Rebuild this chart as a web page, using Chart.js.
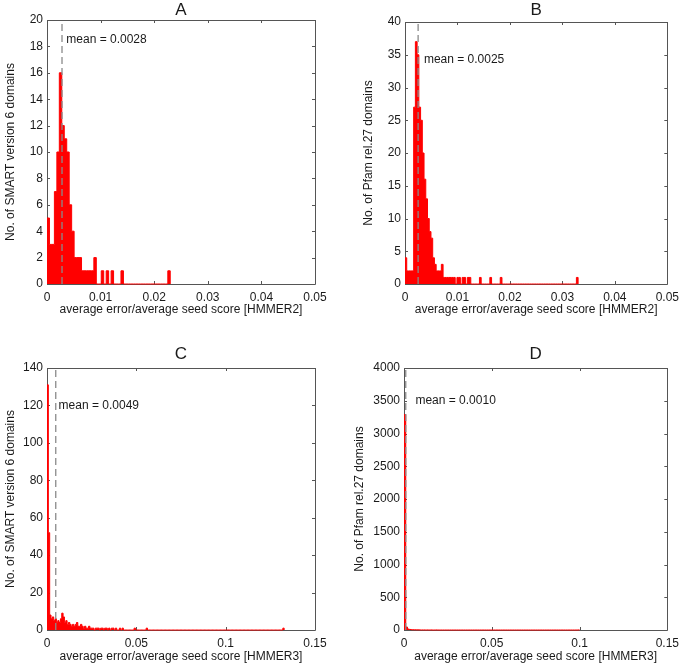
<!DOCTYPE html>
<html>
<head>
<meta charset="utf-8">
<script src="https://cdn.jsdelivr.net/npm/chart.js@4.4.1/dist/chart.umd.min.js"></script>
<style>
    body { margin: 0; background: #fff; }
    #wrap { position: relative; width: 685px; height: 667px; }
    #wrap canvas { position: absolute; }
</style>
</head>
<body>
<div id="wrap">
    <canvas id="chartA" width="342" height="333" style="left:0;top:0"></canvas>
    <canvas id="chartB" width="343" height="333" style="left:342px;top:0"></canvas>
    <canvas id="chartC" width="342" height="333" style="left:0;top:334px"></canvas>
    <canvas id="chartD" width="343" height="333" style="left:342px;top:334px"></canvas>
</div>
<script>
// ========================================
// Data (histogram counts per bin)
// ========================================

const binWidthA = 0.00046;
const countsA = [
    5, 3, 3, 7, 10, 16, 12, 11, 10, 6,
    4, 2, 2, 2, 1, 1, 1, 1, 1, 2,
    0, 0, 1, 0, 1, 0, 1, 0, 0, 0,
    1, 0, 0, 0, 0, 0, 0, 0, 0, 0,
    0, 0, 0, 0, 0, 0, 0, 0, 0, 1
];

const binWidthB = 0.00033;
const countsB = [
    4, 2, 2, 2, 2, 27, 37, 35, 27, 25,
    20, 16, 13, 10, 8, 7, 4, 3, 2, 2,
    2, 3, 1, 1, 1, 1, 1, 1, 1, 0,
    1, 1, 0, 1, 1, 0, 1, 1, 0, 0,
    0, 0, 0, 1, 0, 0, 0, 0, 0, 1,
    0, 0, 0, 0, 0, 1, 0, 0, 0, 0,
    0, 0, 0, 0, 0, 0, 0, 0, 0, 0,
    0, 0, 0, 0, 0, 0, 0, 0, 0, 0,
    0, 0, 0, 0, 0, 0, 0, 0, 0, 0,
    0, 0, 0, 0, 0, 0, 0, 0, 0, 1
];

const binWidthC = 0.00075;
const countsC = [
    131, 52, 8, 6, 7, 5, 6, 4, 5, 4, 6, 9, 7, 4, 5, 3, 4, 3, 2, 3,
    2, 3, 4, 2, 2, 3, 2, 1, 2, 1, 1, 2, 1, 1, 1, 0, 1, 1, 1, 0,
    1, 1, 0, 1, 1, 0, 1, 0, 1, 1, 0, 1, 0, 0, 1, 0, 1, 0, 0, 0,
    0, 0, 0, 0, 0, 1, 0, 0, 0, 0, 0, 0, 0, 0, 1, 0, 0, 0, 0, 0,
    0, 0, 0, 0, 0, 0, 0, 0, 0, 0, 0, 0, 0, 0, 0, 0, 0, 0, 0, 0,
    0, 0, 0, 0, 0, 0, 0, 0, 0, 0, 0, 0, 0, 0, 0, 0, 0, 0, 0, 0,
    0, 0, 0, 0, 0, 0, 0, 0, 0, 0, 0, 0, 0, 0, 0, 0, 0, 0, 0, 0,
    0, 0, 0, 0, 0, 0, 0, 0, 0, 0, 0, 0, 0, 0, 0, 0, 0, 0, 0, 0,
    0, 0, 0, 0, 0, 0, 0, 0, 0, 0, 0, 0, 0, 0, 0, 0, 1
];

const binWidthD = 0.001;
const countsD = [
    3290, 45, 15, 8, 5, 4, 3, 2, 2, 1,
    1, 1, 0, 1, 0, 1, 0, 0, 1, 0,
    0, 0, 0, 0, 0, 0, 0, 0, 0, 0,
    0, 0, 0, 0, 0, 0, 0, 0, 0, 0,
    0, 0, 0, 0, 0, 0, 0, 0, 0, 0,
    0, 0, 0, 0, 0, 0, 0, 0, 0, 0,
    0, 0, 0, 0, 0, 0, 0, 0, 0, 0,
    0, 0, 0, 0, 0, 0, 0, 0, 0, 0,
    0, 0, 0, 0, 0, 0, 0, 0, 0, 0,
    0, 0, 0, 0, 0, 0, 0, 0, 0, 1
];

const means = [0.0028, 0.0025, 0.0049, 0.0010];
const meanLabels = ['mean = 0.0028', 'mean = 0.0025', 'mean = 0.0049', 'mean = 0.0010'];
// where each mean text sits, in data units [x, y]
const meanLabelAt = [[0.0036, 18.5], [0.0036, 34.3], [0.0065, 120], [0.0065, 3500]];

const xTicksTop = [0, 0.01, 0.02, 0.03, 0.04, 0.05];
const xLabelsTop = ['0', '0.01', '0.02', '0.03', '0.04', '0.05'];
const xTicksBottom = [0, 0.05, 0.1, 0.15];
const xLabelsBottom = ['0', '0.05', '0.1', '0.15'];

const yTicksA = [0, 2, 4, 6, 8, 10, 12, 14, 16, 18, 20];
const yTicksB = [0, 5, 10, 15, 20, 25, 30, 35, 40];
const yTicksC = [0, 20, 40, 60, 80, 100, 120, 140];
const yTicksD = [0, 500, 1000, 1500, 2000, 2500, 3000, 3500, 4000];

const FONT = "'Liberation Sans', Arial, Helvetica, sans-serif";
const AXIS_COLOR = '#555';
const TEXT_COLOR = '#1a1a1a';

// ========================================
// Matlab-style box, inward ticks, panel letter, mean label
// ========================================

const matlabAxes = {
    id: 'matlabAxes',
    beforeDatasetsDraw(chart, args, opts) {
        const { ctx, chartArea: a, scales: { x, y } } = chart;
        ctx.save();
        ctx.strokeStyle = AXIS_COLOR;
        ctx.lineWidth = 1;
        ctx.beginPath();
        ctx.rect(Math.round(a.left) + 0.5, Math.round(a.top) + 0.5,
            Math.round(a.right - a.left), Math.round(a.bottom - a.top));
        x.ticks.forEach(t => {
            const px = Math.round(x.getPixelForValue(t.value)) + 0.5;
            ctx.moveTo(px, a.bottom); ctx.lineTo(px, a.bottom - 3);
            ctx.moveTo(px, a.top); ctx.lineTo(px, a.top + 3);
        });
        y.ticks.forEach(t => {
            const py = Math.round(y.getPixelForValue(t.value)) + 0.5;
            ctx.moveTo(a.left, py); ctx.lineTo(a.left + 3, py);
            ctx.moveTo(a.right, py); ctx.lineTo(a.right - 3, py);
        });
        ctx.stroke();
        ctx.restore();
    },
    afterDraw(chart, args, opts) {
        const { ctx, chartArea: a, scales: { x, y } } = chart;
        ctx.save();
        ctx.fillStyle = TEXT_COLOR;
        ctx.font = '17px ' + FONT;
        ctx.textAlign = 'center';
        ctx.textBaseline = 'middle';
        ctx.fillText(opts.letter, (a.left + a.right) / 2, opts.letterY);

        ctx.font = '12px ' + FONT;
        ctx.textAlign = 'left';
        ctx.fillText(opts.meanText, x.getPixelForValue(opts.meanAt[0]), y.getPixelForValue(opts.meanAt[1]));
        ctx.restore();
    }
};

// bin counts -> stepped outline (left edge of each bin, closed at the last edge)
function histPoints(counts, w) {
    const pts = counts.map((c, i) => ({ x: i * w, y: c }));
    pts.push({ x: counts.length * w, y: 0 });
    return pts;
}

function makePanel(p) {
    const yMax = p.yTicks[p.yTicks.length - 1];
    const xMax = p.xTicks[p.xTicks.length - 1];
    const tickFont = { family: FONT, size: 12 };

    return new Chart(document.getElementById(p.id).getContext('2d'), {
        type: 'line',
        data: {
            datasets: [{
                // mean marker
                data: [{ x: p.mean, y: 0 }, { x: p.mean, y: yMax }],
                borderColor: '#8a8a8a',
                borderWidth: 1.3,
                borderDash: [7, 4],
                pointRadius: 0,
                fill: false
            }, {
                data: histPoints(p.counts, p.binWidth),
                stepped: true,
                borderColor: '#ff0000',
                backgroundColor: '#ff0000',
                borderWidth: 1,
                pointRadius: 0,
                fill: 'origin',
                clip: 2
            }]
        },
        options: {
            responsive: false,
            animation: false,
            layout: { padding: { left: 0, top: p.frame.padTop, right: p.frame.padRight, bottom: 0 } },
            plugins: {
                legend: { display: false },
                tooltip: { enabled: false },
                matlabAxes: {
                    letter: p.letter,
                    letterY: p.frame.letterY,
                    meanText: p.meanText,
                    meanAt: p.meanAt
                }
            },
            scales: {
                x: {
                    type: 'linear',
                    min: 0,
                    max: xMax,
                    grid: { display: false, drawTicks: false },
                    border: { display: false },
                    afterBuildTicks: s => { s.ticks = p.xTicks.map(v => ({ value: v })); },
                    afterFit: s => { s.height = p.frame.xAxisHeight; },
                    ticks: {
                        autoSkip: false,
                        maxRotation: 0,
                        padding: 6,
                        color: TEXT_COLOR,
                        font: tickFont,
                        callback: (v, i) => p.xLabels[i]
                    },
                    title: {
                        display: true,
                        text: p.xTitle,
                        color: TEXT_COLOR,
                        font: tickFont,
                        padding: { top: 0, bottom: p.frame.xTitlePad }
                    }
                },
                y: {
                    min: 0,
                    max: yMax,
                    grid: { display: false, drawTicks: false },
                    border: { display: false },
                    afterBuildTicks: s => { s.ticks = p.yTicks.map(v => ({ value: v })); },
                    afterFit: s => { s.width = p.frame.yAxisWidth; },
                    ticks: {
                        padding: 4,
                        color: TEXT_COLOR,
                        font: tickFont,
                        callback: v => String(v)
                    },
                    title: {
                        display: true,
                        text: p.yTitle,
                        color: TEXT_COLOR,
                        font: tickFont,
                        padding: { top: p.frame.yTitlePad, bottom: 0 }
                    }
                }
            }
        },
        plugins: [matlabAxes]
    });
}

const hmmer2 = 'average error/average seed score [HMMER2]';
const hmmer3 = 'average error/average seed score [HMMER3]';
const smartTitle = 'No. of SMART version 6 domains';
const pfamTitle = 'No. of Pfam rel.27 domains';

try {
    makePanel({
        id: 'chartA', letter: 'A', counts: countsA, binWidth: binWidthA,
        mean: means[0], meanText: meanLabels[0], meanAt: meanLabelAt[0],
        xTicks: xTicksTop, xLabels: xLabelsTop, yTicks: yTicksA,
        xTitle: hmmer2, yTitle: smartTitle,
        frame: { padTop: 20, padRight: 27, yAxisWidth: 47, xAxisHeight: 49, yTitlePad: 3, xTitlePad: 16, letterY: 10 }
    });
    makePanel({
        id: 'chartB', letter: 'B', counts: countsB, binWidth: binWidthB,
        mean: means[1], meanText: meanLabels[1], meanAt: meanLabelAt[1],
        xTicks: xTicksTop, xLabels: xLabelsTop, yTicks: yTicksB,
        xTitle: hmmer2, yTitle: pfamTitle,
        frame: { padTop: 22, padRight: 17, yAxisWidth: 63, xAxisHeight: 49, yTitlePad: 19, xTitlePad: 16, letterY: 10 }
    });
    makePanel({
        id: 'chartC', letter: 'C', counts: countsC, binWidth: binWidthC,
        mean: means[2], meanText: meanLabels[2], meanAt: meanLabelAt[2],
        xTicks: xTicksBottom, xLabels: xLabelsBottom, yTicks: yTicksC,
        xTitle: hmmer3, yTitle: smartTitle,
        frame: { padTop: 34, padRight: 27, yAxisWidth: 47, xAxisHeight: 37, yTitlePad: 3, xTitlePad: 3, letterY: 20 }
    });
    makePanel({
        id: 'chartD', letter: 'D', counts: countsD, binWidth: binWidthD,
        mean: means[3], meanText: meanLabels[3], meanAt: meanLabelAt[3],
        xTicks: xTicksBottom, xLabels: xLabelsBottom, yTicks: yTicksD,
        xTitle: hmmer3, yTitle: pfamTitle,
        frame: { padTop: 34, padRight: 12, yAxisWidth: 62, xAxisHeight: 37, yTitlePad: 10, xTitlePad: 3, letterY: 20 }
    });
} catch (err) {
    console.error(err);
}
</script>
</body>
</html>
